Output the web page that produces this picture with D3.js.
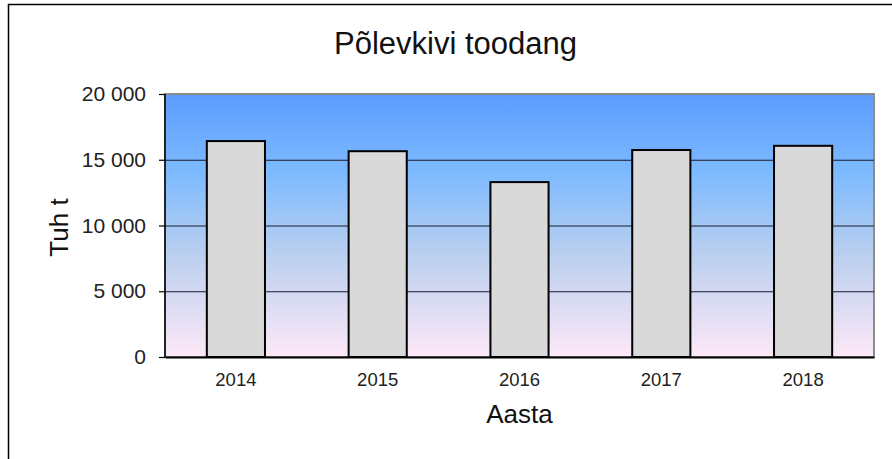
<!DOCTYPE html>
<html>
<head>
<meta charset="utf-8">
<script src="https://cdn.jsdelivr.net/npm/d3@7"></script>
<style>
  body { margin: 0; background: #fff; }
  svg { display: block; font-family: "Liberation Sans", Arial, sans-serif; }
</style>
</head>
<body>
<svg id="chart" width="892" height="459"></svg>
<script>
// data
let years = ["2014", "2015", "2016", "2017", "2018"];
let output = [16420, 15650, 13300, 15740, 16060];
let yTicks = [0, 5000, 10000, 15000, 20000];

let title = "Põlevkivi toodang";
let xTitle = "Aasta";
let yTitle = "Tuh t";

function render() {
    let svg = d3.select("#chart");

    let margin = { top: 94, right: 18, bottom: 102, left: 165 };
    let width = 892 - margin.left - margin.right;
    let height = 459 - margin.top - margin.bottom;

    // outer frame, runs off the right and bottom edges
    svg.append("rect")
        .attr("x", 8.5)
        .attr("y", 4.5)
        .attr("width", 900)
        .attr("height", 480)
        .attr("fill", "none")
        .attr("stroke", "#000")
        .attr("stroke-width", 1.5);

    let grad = svg.append("defs").append("linearGradient")
        .attr("id", "bg")
        .attr("x1", 0).attr("y1", 0)
        .attr("x2", 0).attr("y2", 1);
    grad.append("stop").attr("offset", "0%").attr("stop-color", "#5c9cff");
    grad.append("stop").attr("offset", "30%").attr("stop-color", "#7dbaff");
    grad.append("stop").attr("offset", "62%").attr("stop-color", "#bcd0ef");
    grad.append("stop").attr("offset", "100%").attr("stop-color", "#fde8f8");

    let xScale = d3.scaleBand()
        .domain(years)
        .range([0, width])
        .paddingInner(0.59)
        .paddingOuter(0.295);

    let yScale = d3.scaleLinear()
        .domain([0, 20000])
        .range([height, 0]);

    let g = svg.append("g")
        .attr("transform", "translate(" + margin.left + "," + margin.top + ")");

    // plot area with gray border
    g.append("rect")
        .attr("x", 0)
        .attr("y", 0)
        .attr("width", width)
        .attr("height", height)
        .attr("fill", "url(#bg)")
        .attr("stroke", "#8c8c8c")
        .attr("stroke-width", 2);

    // gridlines
    g.selectAll(".grid")
        .data(yTicks.filter(d => d > 0 && d < 20000))
        .enter()
        .append("line")
        .classed("grid", true)
        .attr("x1", 0)
        .attr("x2", width)
        .attr("y1", d => yScale(d) + 0.5)
        .attr("y2", d => yScale(d) + 0.5)
        .attr("stroke", "#1a1a2a")
        .attr("stroke-width", 1.2);

    g.selectAll(".bar")
        .data(output)
        .enter()
        .append("rect")
        .classed("bar", true)
        .attr("x", (d, i) => xScale(years[i]))
        .attr("y", d => yScale(d))
        .attr("width", xScale.bandwidth())
        .attr("height", d => height - yScale(d))
        .attr("fill", "#d9d9d9")
        .attr("stroke", "#000")
        .attr("stroke-width", 2);

    // y axis
    let yAxis = g.append("g")
        .call(d3.axisLeft(yScale)
            .tickValues(yTicks)
            .tickSize(6)
            .tickPadding(13)
            .tickFormat(d => d3.format(",")(d).replace(",", " ")));
    yAxis.select(".domain").attr("stroke", "#000").attr("stroke-width", 1.5)
        .attr("d", "M0,0V" + height);
    yAxis.selectAll(".tick line").attr("stroke", "#000").attr("stroke-width", 1.2);
    yAxis.selectAll(".tick text")
        .attr("font-size", "21px")
        .attr("fill", "#222")
        .attr("font-family", "Liberation Sans, Arial, sans-serif");

    // x axis
    let xAxis = g.append("g")
        .attr("transform", "translate(0," + height + ")")
        .call(d3.axisBottom(xScale).tickSize(0).tickPadding(16));
    xAxis.select(".domain").attr("stroke", "#000").attr("stroke-width", 2);
    xAxis.selectAll(".tick text")
        .attr("font-size", "18.5px")
        .attr("fill", "#222")
        .attr("font-family", "Liberation Sans, Arial, sans-serif");

    svg.append("text")
        .attr("x", margin.left + width / 2 - 64)
        .attr("y", 54)
        .attr("font-size", "31px")
        .attr("fill", "#111")
        .style("text-anchor", "middle")
        .text(title);

    svg.append("text")
        .attr("x", margin.left + width / 2)
        .attr("y", 423)
        .attr("font-size", "26px")
        .attr("fill", "#111")
        .style("text-anchor", "middle")
        .text(xTitle);

    svg.append("text")
        .attr("transform", "translate(68," + (margin.top + height / 2 + 2) + ") rotate(-90)")
        .attr("font-size", "26px")
        .attr("fill", "#111")
        .style("text-anchor", "middle")
        .text(yTitle);
}

document.addEventListener("DOMContentLoaded", () => {
    render();
});
</script>
</body>
</html>
